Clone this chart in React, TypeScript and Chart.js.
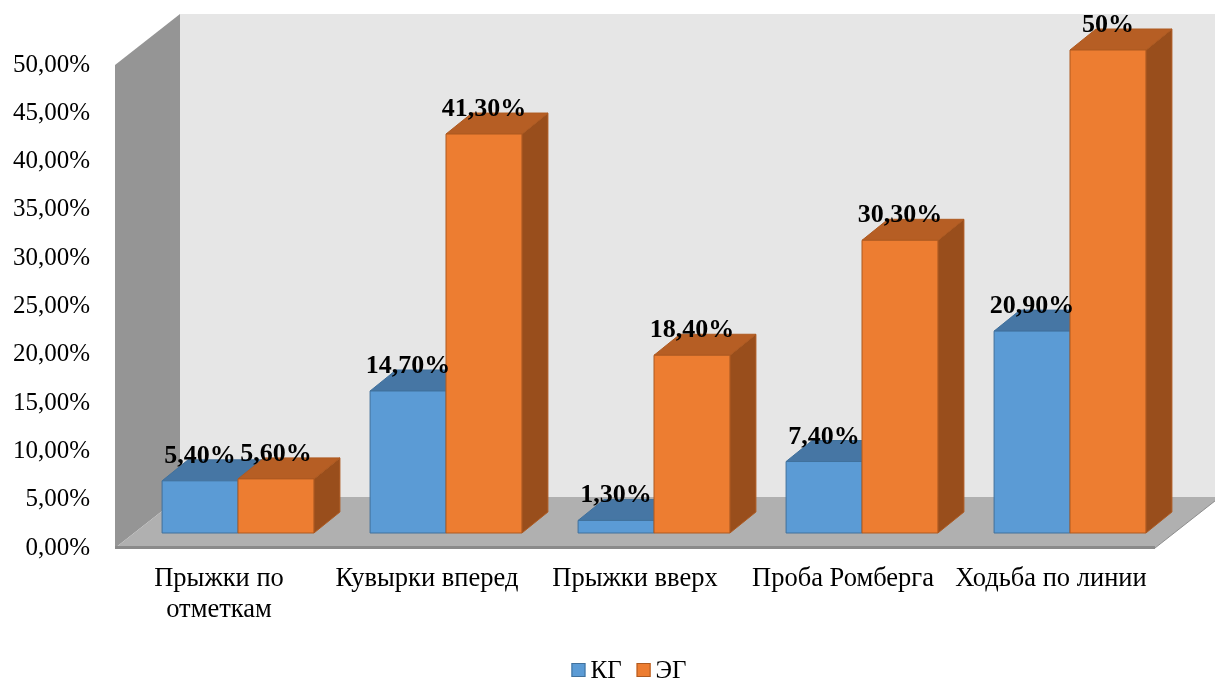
import React, { useEffect, useRef } from 'react';
import { Chart, registerables } from 'chart.js';

Chart.register(...registerables);

// Test names along the x axis (multi-line entries are arrays)
const categories: (string | string[])[] = [
  ['Прыжки по', 'отметкам'],
  'Кувырки вперед',
  'Прыжки вверх',
  'Проба Ромберга',
  'Ходьба по линии',
];

const seriesNames = ['КГ', 'ЭГ'];

// Percent of children per test
const kgValues = [5.4, 14.7, 1.3, 7.4, 20.9];
const egValues = [5.6, 41.3, 18.4, 30.3, 50];

// Value axis range
const yMin = 0;
const yMax = 50;
const yStep = 5;

const FONT = "'Liberation Serif', 'Times New Roman', serif";

// Face colours for each series: front, top, right side, outline
const palette = [
  { front: '#5b9bd5', top: '#4676a4', side: '#3e6a94', edge: '#41719c' },
  { front: '#ed7d31', top: '#b65e24', side: '#994e1c', edge: '#ae5a21' },
];

// Oblique projection offsets (pixels)
const WALL_DX = 65;
const WALL_DY = -51;
const BAR_SHIFT_X = 19;
const BAR_SHIFT_Y = -15;
const BAR_DX = 26;
const BAR_DY = -21;

const fmtTick = (v: number) => `${v.toFixed(2).replace('.', ',')}%`;
const fmtValue = (v: number) =>
  Number.isInteger(v) ? `${v}%` : `${v.toFixed(2).replace('.', ',')}%`;

function poly(ctx: CanvasRenderingContext2D, pts: number[][], fill: string, stroke?: string) {
  ctx.beginPath();
  ctx.moveTo(pts[0][0], pts[0][1]);
  for (let i = 1; i < pts.length; i++) ctx.lineTo(pts[i][0], pts[i][1]);
  ctx.closePath();
  ctx.fillStyle = fill;
  ctx.fill();
  if (stroke) {
    ctx.strokeStyle = stroke;
    ctx.lineWidth = 1;
    ctx.stroke();
  }
}

const depthPlugin = {
  id: 'depth3d',
  beforeDraw(chart: any) {
    const { ctx, chartArea: ca } = chart;
    const ys = chart.scales.y;
    const y0 = ys.getPixelForValue(yMin);
    const yT = ys.getPixelForValue(yMax);
    ctx.save();
    // back wall
    poly(ctx, [
      [ca.left + WALL_DX, yT + WALL_DY],
      [ca.right + WALL_DX, yT + WALL_DY],
      [ca.right + WALL_DX, y0 + WALL_DY],
      [ca.left + WALL_DX, y0 + WALL_DY],
    ], '#e6e6e6');
    // left wall
    poly(ctx, [
      [ca.left, yT],
      [ca.left + WALL_DX, yT + WALL_DY],
      [ca.left + WALL_DX, y0 + WALL_DY],
      [ca.left, y0],
    ], '#959595');
    // floor
    poly(ctx, [
      [ca.left, y0],
      [ca.right, y0],
      [ca.right + WALL_DX, y0 + WALL_DY],
      [ca.left + WALL_DX, y0 + WALL_DY],
    ], '#b0b0b0');
    // floor front edge
    ctx.fillStyle = '#8a8a8a';
    ctx.fillRect(ca.left, y0 - 2, ca.right - ca.left, 3);
    ctx.strokeStyle = '#8e8e8e';
    ctx.lineWidth = 1;
    ctx.beginPath();
    ctx.moveTo(ca.right, y0);
    ctx.lineTo(ca.right + WALL_DX, y0 + WALL_DY);
    ctx.stroke();
    ctx.restore();
  },
  beforeDatasetsDraw(chart: any) {
    const { ctx } = chart;
    const metas = chart.data.datasets.map((_: any, i: number) => chart.getDatasetMeta(i));
    ctx.save();
    for (let j = 0; j < categories.length; j++) {
      metas.forEach((meta: any, i: number) => {
        const el = meta.data[j];
        if (!el) return;
        const c = palette[i];
        const l = el.x - el.width / 2 + BAR_SHIFT_X;
        const r = el.x + el.width / 2 + BAR_SHIFT_X;
        const t = el.y + BAR_SHIFT_Y;
        const b = el.base + BAR_SHIFT_Y;
        // right side
        poly(ctx, [[r, t], [r + BAR_DX, t + BAR_DY], [r + BAR_DX, b + BAR_DY], [r, b]], c.side, c.edge);
        // top
        poly(ctx, [[l, t], [r, t], [r + BAR_DX, t + BAR_DY], [l + BAR_DX, t + BAR_DY]], c.top, c.edge);
        // front
        poly(ctx, [[l, t], [r, t], [r, b], [l, b]], c.front, c.edge);
      });
    }
    ctx.restore();
    return false;
  },
  afterDraw(chart: any) {
    const { ctx } = chart;
    ctx.save();
    // value labels above each bar
    ctx.font = `bold 26px ${FONT}`;
    ctx.fillStyle = '#000';
    ctx.textAlign = 'center';
    ctx.textBaseline = 'alphabetic';
    chart.data.datasets.forEach((ds: any, i: number) => {
      const meta = chart.getDatasetMeta(i);
      meta.data.forEach((el: any, j: number) => {
        ctx.fillText(fmtValue(ds.data[j]), el.x + BAR_SHIFT_X, el.y + BAR_SHIFT_Y - 18);
      });
    });
    // legend
    ctx.font = `25px ${FONT}`;
    ctx.textAlign = 'left';
    ctx.textBaseline = 'middle';
    const box = 14;
    const gap = 5;
    const itemGap = 15;
    const widths = seriesNames.map((n) => box + gap + ctx.measureText(n).width);
    const total = widths.reduce((a, b) => a + b, 0) + itemGap * (widths.length - 1);
    let x = 629 - total / 2;
    const cy = 670;
    seriesNames.forEach((n, i) => {
      ctx.fillStyle = palette[i].front;
      ctx.fillRect(x, cy - box / 2, box, box);
      ctx.strokeStyle = palette[i].edge;
      ctx.lineWidth = 1;
      ctx.strokeRect(x + 0.5, cy - box / 2 + 0.5, box - 1, box - 1);
      ctx.fillStyle = '#000';
      ctx.fillText(n, x + box + gap, cy + 1);
      x += widths[i] + itemGap;
    });
    ctx.restore();
  },
};

export default function App() {
  const ref = useRef<HTMLCanvasElement | null>(null);

  useEffect(() => {
    if (!ref.current) return;
    const chart = new Chart(ref.current, {
      type: 'bar',
      data: {
        labels: categories,
        datasets: [
          { label: seriesNames[0], data: kgValues, backgroundColor: palette[0].front },
          { label: seriesNames[1], data: egValues, backgroundColor: palette[1].front },
        ],
      },
      options: {
        responsive: false,
        animation: false,
        layout: { padding: { top: 65, right: 60, left: 0, bottom: 0 } },
        plugins: {
          legend: { display: false },
          tooltip: { enabled: false },
        },
        datasets: {
          bar: { categoryPercentage: 0.73, barPercentage: 1 },
        },
        scales: {
          x: {
            grid: { display: false, drawTicks: false },
            border: { display: false },
            ticks: {
              color: '#000',
              padding: 16,
              maxRotation: 0,
              autoSkip: false,
              font: { family: FONT, size: 26.5, lineHeight: 31 / 26.5 },
            },
            afterFit: (scale: any) => {
              scale.height = 132;
            },
          },
          y: {
            min: yMin,
            max: yMax,
            grid: { display: false, drawTicks: false },
            border: { display: false },
            ticks: {
              stepSize: yStep,
              color: '#000',
              padding: 25,
              font: { family: FONT, size: 25 },
              callback: (v: any) => fmtTick(Number(v)),
            },
            afterFit: (scale: any) => {
              scale.width = 115;
            },
          },
        },
      },
      plugins: [depthPlugin],
    } as any);
    return () => chart.destroy();
  }, []);

  return (
    <div style={{ position: 'absolute', left: 0, top: 0, width: 1215, height: 680, background: '#fff' }}>
      <canvas ref={ref} width={1215} height={680} />
    </div>
  );
}
